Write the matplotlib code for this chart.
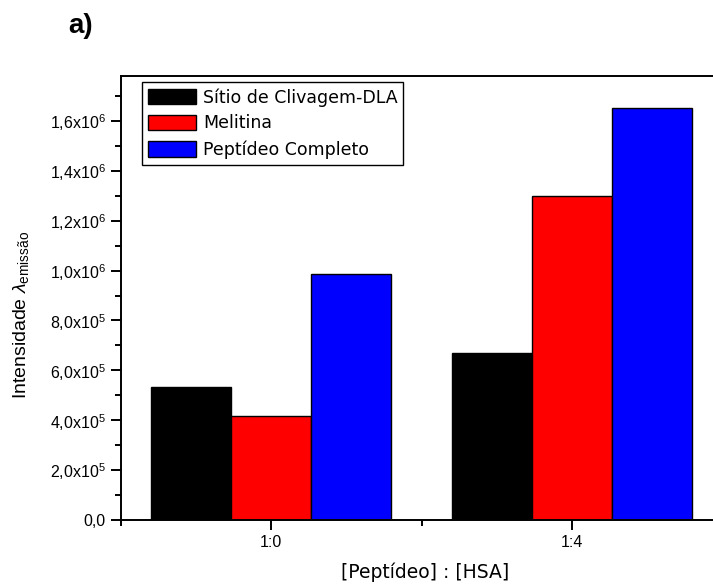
import numpy as np
import matplotlib
matplotlib.use('Agg')
import matplotlib.pyplot as plt
from matplotlib.ticker import MultipleLocator

# DATA
categories = ['1:0', '1:4']
series_names = ['Sítio de Clivagem-DLA', 'Melitina', 'Peptídeo Completo']
sitio = [5.35e5, 6.70e5]
melitina = [4.15e5, 1.30e6]
completo = [9.85e5, 1.65e6]
ytick_values = [0, 2e5, 4e5, 6e5, 8e5, 1e6, 1.2e6, 1.4e6, 1.6e6]
ytick_labels = ['0,0', '2,0x10$^{5}$', '4,0x10$^{5}$', '6,0x10$^{5}$', '8,0x10$^{5}$',
                '1,0x10$^{6}$', '1,2x10$^{6}$', '1,4x10$^{6}$', '1,6x10$^{6}$']

# STYLES
bar_colors = ['#000000', '#ff0000', '#0000ff']
plt.rcParams['font.family'] = ['Liberation Sans', 'DejaVu Sans']
plt.rcParams['mathtext.fontset'] = 'custom'
plt.rcParams['mathtext.rm'] = 'Liberation Sans'
plt.rcParams['mathtext.it'] = 'Liberation Sans:italic'

W, H = 713, 586
fig = plt.figure(figsize=(W / 100, H / 100), dpi=100)
ax = fig.add_axes([121 / W, 1 - 520 / H, 601 / W, 444 / H])

x = np.arange(1, len(categories) + 1)
width = 0.8 / 3
for i, (vals, name) in enumerate(zip([sitio, melitina, completo], series_names)):
    ax.bar(x + (i - 1) * width, vals, width, color=bar_colors[i],
           edgecolor='black', linewidth=1, label=name)

ax.set_xlim(0.5, 2.5)
ax.set_ylim(0, 1.78e6)
ax.set_xticks(x)
ax.set_xticklabels(categories, fontsize=11.5)
ax.xaxis.set_minor_locator(MultipleLocator(0.5))
ax.set_yticks(ytick_values)
ax.set_yticklabels(ytick_labels, fontsize=11.5)
ax.yaxis.set_minor_locator(MultipleLocator(1e5))

for s in ax.spines.values():
    s.set_linewidth(1.4)
ax.tick_params(which='major', direction='out', length=7, width=1.4, pad=4)
ax.tick_params(which='minor', direction='out', length=4, width=1.4)

# axis labels
fig.text(425 / W, 1 - 572 / H, '[Peptídeo] : [HSA]', ha='center', va='center',
         fontsize=13.5, family='DejaVu Sans')
fig.text(21 / W, 1 - 315 / H, r'Intensidade $\lambda_{\mathregular{emissão}}$',
         rotation=90, ha='center', va='center', fontsize=14)
fig.text(81 / W, 1 - 26 / H, 'a)', ha='center', va='center',
         fontsize=20, fontweight='bold')

leg = ax.legend(loc='upper left', bbox_to_anchor=(142 / W, 1 - 82 / H),
                bbox_transform=fig.transFigure, borderaxespad=0,
                prop={'family': 'DejaVu Sans', 'size': 12.5},
                handlelength=2.75, handleheight=1.0, handletextpad=0.4,
                labelspacing=0.45, borderpad=0.35, fancybox=False,
                framealpha=1, edgecolor='black')
leg.get_frame().set_linewidth(1)

fig.savefig('out.png', dpi=100)
